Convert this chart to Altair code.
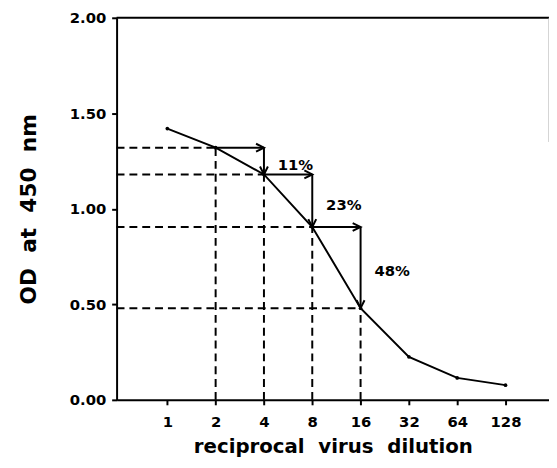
import altair as alt
import pandas as pd
import numpy as np

# ---- data ----
dilution = [1, 2, 4, 8, 16, 32, 64, 128]
od = [1.42, 1.32, 1.18, 0.905, 0.48, 0.225, 0.115, 0.077]
tick_labels = ["1", "2", "4", "8", "16", "32", "64", "128"]
y_ticks = [0.0, 0.5, 1.0, 1.5, 2.0]
marked = [2, 4, 8, 16]            # dilutions projected onto the axes
pct_labels = ["11%", "23%", "48%"]  # drop between successive marked dilutions

X_DOMAIN = [-1.05, 7.9]
Y_DOMAIN = [0.0, 2.0]

pos = np.log2(dilution)
df = pd.DataFrame({"x": pos, "od": od})

sel = [dilution.index(d) for d in marked]
mx = [float(pos[i]) for i in sel]
my = [od[i] for i in sel]

hdash = pd.DataFrame({"x": [X_DOMAIN[0]] * len(mx), "x2": mx, "y": my})
vdash = pd.DataFrame({"x": mx, "y": [Y_DOMAIN[0]] * len(mx), "y2": my})
harr = pd.DataFrame({"x": mx[:-1], "x2": mx[1:], "y": my[:-1]})
varr = pd.DataFrame({"x": mx[1:], "y": my[:-1], "y2": my[1:]})
head_r = pd.DataFrame({"x": mx[1:], "y": my[:-1]})
head_d = pd.DataFrame({"x": mx[1:], "y": my[1:]})
lab = pd.DataFrame({"x": mx[1:],
                    "y": [(a + b) / 2 for a, b in zip(my[:-1], my[1:])],
                    "t": pct_labels})
top = pd.DataFrame({"x": [X_DOMAIN[0]], "x2": [X_DOMAIN[1]], "y": [Y_DOMAIN[1]]})
right = pd.DataFrame({"x": [X_DOMAIN[1]], "y": [Y_DOMAIN[1]], "y2": [1.35]})

FONT = "DejaVu Sans"
xaxis = alt.Axis(
    values=list(range(len(tick_labels))),
    labelExpr=f"{tick_labels}[datum.value]",
    title="reciprocal\u00a0\u00a0virus\u00a0\u00a0dilution",
    titleFontSize=20, titleFontWeight="bold", titleFont=FONT,
    titleBaseline="alphabetic", titleY=53,
    labelFontSize=15, labelFontWeight="bold", labelFont=FONT, labelColor="black",
    labelPadding=10, tickSize=5, tickWidth=2, tickColor="black",
    domainColor="black", domainWidth=2, grid=False,
)
yaxis = alt.Axis(
    values=y_ticks, format=".2f",
    title="OD\u00a0\u00a0at\u00a0\u00a0450\u00a0\u00a0nm",
    titleFontSize=22, titleFontWeight="bold", titleFont=FONT,
    titleAngle=-90, titleAlign="center", titleBaseline="middle",
    titleX=-89, titleY=193.5,
    labelFontSize=15, labelFontWeight="bold", labelFont=FONT, labelColor="black",
    labelPadding=6, tickSize=5, tickWidth=2, tickColor="black",
    domainColor="black", domainWidth=2, grid=False,
)
xs = alt.Scale(domain=X_DOMAIN, nice=False, zero=False)
ys = alt.Scale(domain=Y_DOMAIN, nice=False, zero=False)
X = alt.X("x:Q", scale=xs, axis=xaxis)
Y = alt.Y("y:Q", scale=ys, axis=yaxis)

dash = [8, 5]
layers = [
    alt.Chart(top).mark_rule(color="black", strokeWidth=2).encode(x=X, x2="x2", y=Y),
    alt.Chart(right).mark_rule(color="#aaaaaa", strokeWidth=1).encode(x=X, y=Y, y2="y2"),
    alt.Chart(hdash).mark_rule(color="black", strokeWidth=2, strokeDash=dash).encode(x=X, x2="x2", y=Y),
    alt.Chart(vdash).mark_rule(color="black", strokeWidth=2, strokeDash=dash).encode(x=X, y=Y, y2="y2"),
    alt.Chart(harr).mark_rule(color="black", strokeWidth=2).encode(x=X, x2="x2", y=Y),
    alt.Chart(varr).mark_rule(color="black", strokeWidth=2).encode(x=X, y=Y, y2="y2"),
    alt.Chart(head_r).mark_point(shape="M-1,-0.5L0,0L-1,0.5", size=256, filled=False,
                                 color="black", strokeWidth=2, opacity=1).encode(x=X, y=Y),
    alt.Chart(head_d).mark_point(shape="M-1,-0.5L0,0L-1,0.5", size=256, filled=False, angle=90,
                                 color="black", strokeWidth=2, opacity=1).encode(x=X, y=Y),
    alt.Chart(df).mark_line(color="black", strokeWidth=2).encode(x=X, y=alt.Y("od:Q", scale=ys, axis=yaxis)),
    alt.Chart(df).mark_point(filled=True, size=14, color="black", opacity=1).encode(
        x=X, y=alt.Y("od:Q", scale=ys, axis=yaxis)),
    alt.Chart(lab).mark_text(align="left", baseline="middle", dx=14, dy=4, font=FONT,
                             fontSize=15, fontWeight="bold", color="black").encode(x=X, y=Y, text="t:N"),
]

chart = alt.layer(*layers).properties(
    width=438, height=387,
    autosize=alt.AutoSizeParams(type="none"),
    padding={"left": 110, "top": 7, "right": 0, "bottom": 58},
).configure_view(stroke=None)

chart.save("out.html", embed_options={"renderer": "svg", "actions": False})
